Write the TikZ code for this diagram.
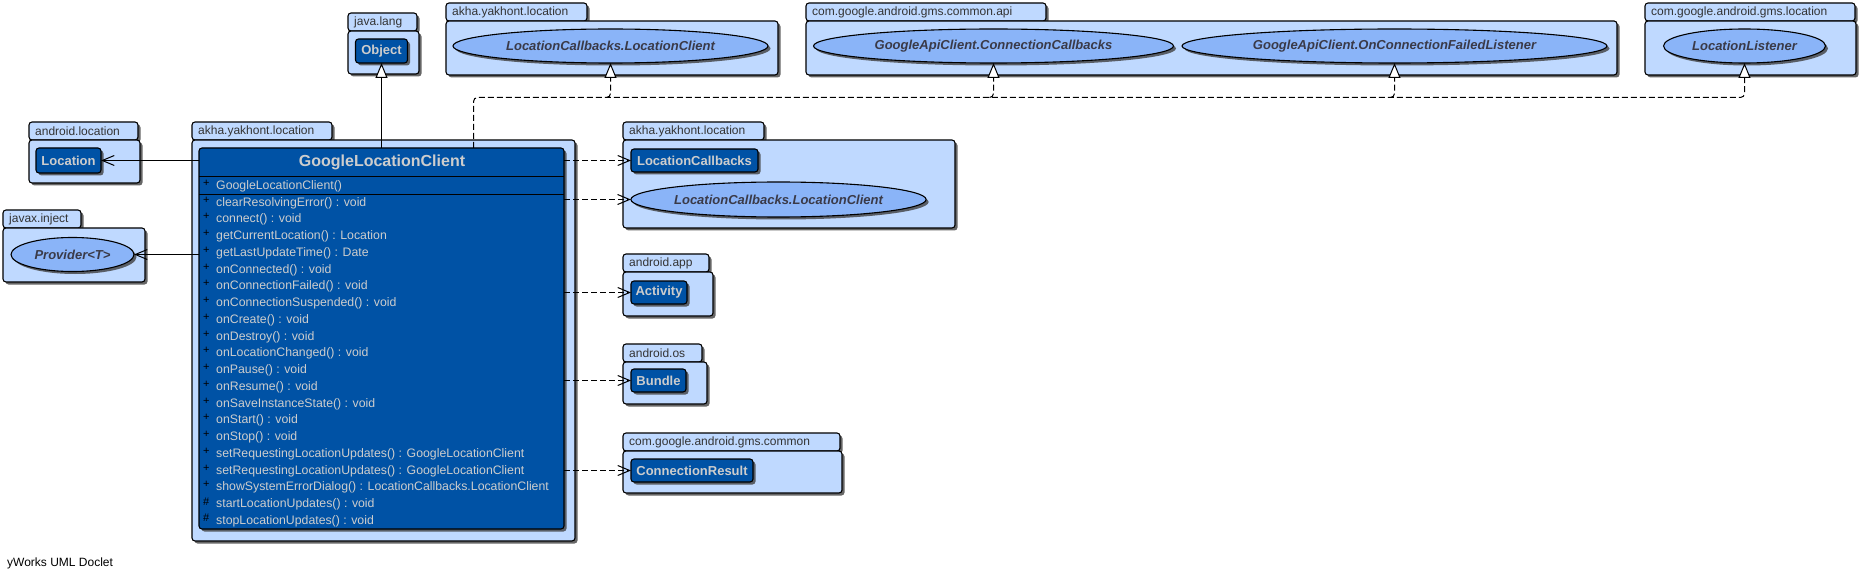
\documentclass[tikz,border=0pt]{standalone}
\usepackage{fontspec}
\setmainfont{Liberation Sans}
\usetikzlibrary{shapes.geometric,arrows.meta,shadows,calc}

\definecolor{pkgfill}{HTML}{BFD9FF}
\definecolor{clsfill}{HTML}{0052A5}
\definecolor{ellfill}{HTML}{8AB4F8}
\definecolor{clstext}{HTML}{CDCDCD}
\definecolor{pkgtext}{HTML}{333333}
\definecolor{elltext}{HTML}{3A3A48}

\newcommand\pkgfnt{\fontsize{12}{14}\selectfont}
\newcommand\methfnt{\fontsize{12.3}{14}\selectfont}
\newcommand\ywfnt{\fontsize{12}{14}\selectfont}
\newcommand\ttlfnt{\fontsize{16}{18}\selectfont\bfseries}
\newcommand\nmfnt{\fontsize{13}{15}\selectfont\bfseries}
\newcommand\ifcfnt{\fontsize{13}{15}\selectfont\bfseries\itshape}
\newcommand\visfnt{\fontsize{11}{12}\selectfont}

% name, x, y(top of tab), tab width, body width, body height, label
\newcommand\pkg[7]{%
  \node[pkgtab, minimum width=#4pt] (#1t) at (#2,#3) {};
  \node[pkglabel] (#1l) at ($(#1t.west)+(6,0)$) {#7};
  \node[pkgbody, minimum width=#5pt, minimum height=#6pt] (#1) at (#2,#3+18) {};
}

\begin{document}
\begin{tikzpicture}[x=1pt,y=-1pt,
  shad/.style={drop shadow={shadow xshift=2.5pt,shadow yshift=-2.5pt,fill=black!75,opacity=.8}},
  pkgbody/.style={shad, draw, line width=1.1pt, fill=pkgfill, rounded corners=3pt,
    anchor=north west, inner sep=0pt, outer sep=0pt},
  pkgtab/.style={pkgbody, minimum height=18pt},
  pkglabel/.style={anchor=west, inner sep=0pt, font=\pkgfnt, text=pkgtext},
  clsbox/.style={shad, draw, line width=1.1pt, fill=clsfill, rounded corners=3pt,
    anchor=north west, inner sep=0pt, outer sep=0pt},
  clsnode/.style={clsbox, text=clstext, font=\nmfnt},
  ifc/.style={shad, ellipse, draw, line width=1.1pt, fill=ellfill, inner sep=0pt,
    outer sep=0pt, text=elltext, font=\ifcfnt},
  meth/.style={anchor=west, inner sep=0pt, font=\methfnt, text=clstext},
  vis/.style={anchor=west, inner sep=0pt, font=\visfnt, text=black},
  gen/.style={line width=1pt, -{Triangle[open,fill=white,length=15pt,width=12pt]}},
  real/.style={gen, dash pattern=on 6pt off 3pt, rounded corners=4pt},
  dep/.style={line width=1pt, dash pattern=on 6pt off 3pt, -{Straight Barb[length=12pt,width=10pt]}},
  assoc/.style={line width=1pt, -{Straight Barb[length=12pt,width=10pt]}}
]
\useasboundingbox (0,0) rectangle (1861,580);

% packages
\pkg{jl}{348}{13}{69}{71}{43}{java.lang}
\pkg{akt}{446}{3}{141}{332}{54}{akha.yakhont.location}
\pkg{gapi}{806}{3}{240}{811}{54}{com.google.android.gms.common.api}
\pkg{gloc}{1645}{3}{210}{211}{54}{com.google.android.gms.location}
\pkg{aloc}{29}{122}{109}{111}{43}{android.location}
\pkg{jinj}{3}{210}{78}{142}{54}{javax.inject}
\pkg{akm}{192}{122}{140}{383}{401}{akha.yakhont.location}
\pkg{akr}{623}{122}{141}{332}{88}{akha.yakhont.location}
\pkg{aapp}{623}{254}{86}{90}{44}{android.app}
\pkg{aos}{623}{344}{79}{84}{42}{android.os}
\pkg{gcom}{623}{433}{217}{219}{42}{com.google.android.gms.common}

% classes and interfaces
\node[clsnode, minimum width=52pt, minimum height=24pt] (obj) at (355.5,39) {Object};
\node[ifc, minimum width=315pt, minimum height=34pt] (lclt) at (610.5,46) {LocationCallbacks.LocationClient};
\node[ifc, minimum width=360pt, minimum height=34pt] (ccb) at (993.5,46) {GoogleApiClient.ConnectionCallbacks};
\node[ifc, minimum width=425pt, minimum height=34pt] (ocf) at (1394.5,46) {GoogleApiClient.OnConnectionFailedListener};
\node[ifc, minimum width=162pt, minimum height=34pt] (lls) at (1744.5,46) {LocationListener};
\node[clsnode, minimum width=65pt, minimum height=25pt] (loc) at (36,148) {Location};
\node[ifc, minimum width=123pt, minimum height=34pt] (prov) at (72.5,254.5) {Provider<T>};
\node[clsnode, minimum width=127pt, minimum height=23pt] (lcb) at (631,149) {LocationCallbacks};
\node[ifc, minimum width=295pt, minimum height=35pt] (lclr) at (778.5,199.5) {LocationCallbacks.LocationClient};
\node[clsnode, minimum width=56pt, minimum height=23pt] (act) at (631,281) {Activity};
\node[clsnode, minimum width=55pt, minimum height=23pt] (bun) at (631,369) {Bundle};
\node[clsnode, minimum width=122pt, minimum height=23pt] (cres) at (631,459) {ConnectionResult};

% main class
\node[clsbox, minimum width=365pt, minimum height=381pt] (cls) at (199,148) {};
\node[inner sep=0pt, font=\ttlfnt, text=clstext] (ttl) at (382,162) {GoogleLocationClient};
\draw[line width=1pt] (199,176.5) -- (564,176.5);
\draw[line width=1pt] (199,194.5) -- (564,194.5);
\node[vis] (vc) at (203,183) {+};
\node[meth] (ctor) at (216,186) {GoogleLocationClient()};
\foreach \v/\t [count=\i from 0] in {
  +/{clearResolvingError() : void},
  +/{connect() : void},
  +/{getCurrentLocation() : Location},
  +/{getLastUpdateTime() : Date},
  +/{onConnected() : void},
  +/{onConnectionFailed() : void},
  +/{onConnectionSuspended() : void},
  +/{onCreate() : void},
  +/{onDestroy() : void},
  +/{onLocationChanged() : void},
  +/{onPause() : void},
  +/{onResume() : void},
  +/{onSaveInstanceState() : void},
  +/{onStart() : void},
  +/{onStop() : void},
  +/{setRequestingLocationUpdates() : GoogleLocationClient},
  +/{setRequestingLocationUpdates() : GoogleLocationClient},
  +/{showSystemErrorDialog() : LocationCallbacks.LocationClient},
  \#/{startLocationUpdates() : void},
  \#/{stopLocationUpdates() : void}} {
  \node[vis] (v\i) at (203,{203+16.74*\i-3}) {\v};
  \node[meth] (m\i) at (216,{203+16.74*\i}) {\t};
}

% connectors
\draw[gen] (obj.south |- cls.north) -- (obj.south);
\coordinate (rs) at (473.5,148);
\coordinate (bus) at (473.5,97.5);
\coordinate (b1) at ($(lclt.south |- bus)+(-4,0)$);
\coordinate (b2) at ($(ccb.south |- bus)+(-4,0)$);
\coordinate (b3) at ($(ocf.south |- bus)+(-4,0)$);
\draw[real] (rs) -- (bus) -| (lls.south);
\draw[real] (b1) -| (lclt.south);
\draw[real] (b2) -| (ccb.south);
\draw[real] (b3) -| (ocf.south);

\draw[assoc] (loc.east -| cls.west) -- (loc.east);
\draw[assoc] (prov.east -| cls.west) -- (prov.east);

\draw[dep] (lcb.west -| cls.east) -- (lcb.west);
\draw[dep] (lclr.west -| cls.east) -- (lclr.west);
\draw[dep] (act.west -| cls.east) -- (act.west);
\draw[dep] (bun.west -| cls.east) -- (bun.west);
\draw[dep] (cres.west -| cls.east) -- (cres.west);

\node[anchor=west, inner sep=0pt, font=\ywfnt, text=black] (yw) at (7,563) {yWorks UML Doclet};
\end{tikzpicture}
\end{document}
